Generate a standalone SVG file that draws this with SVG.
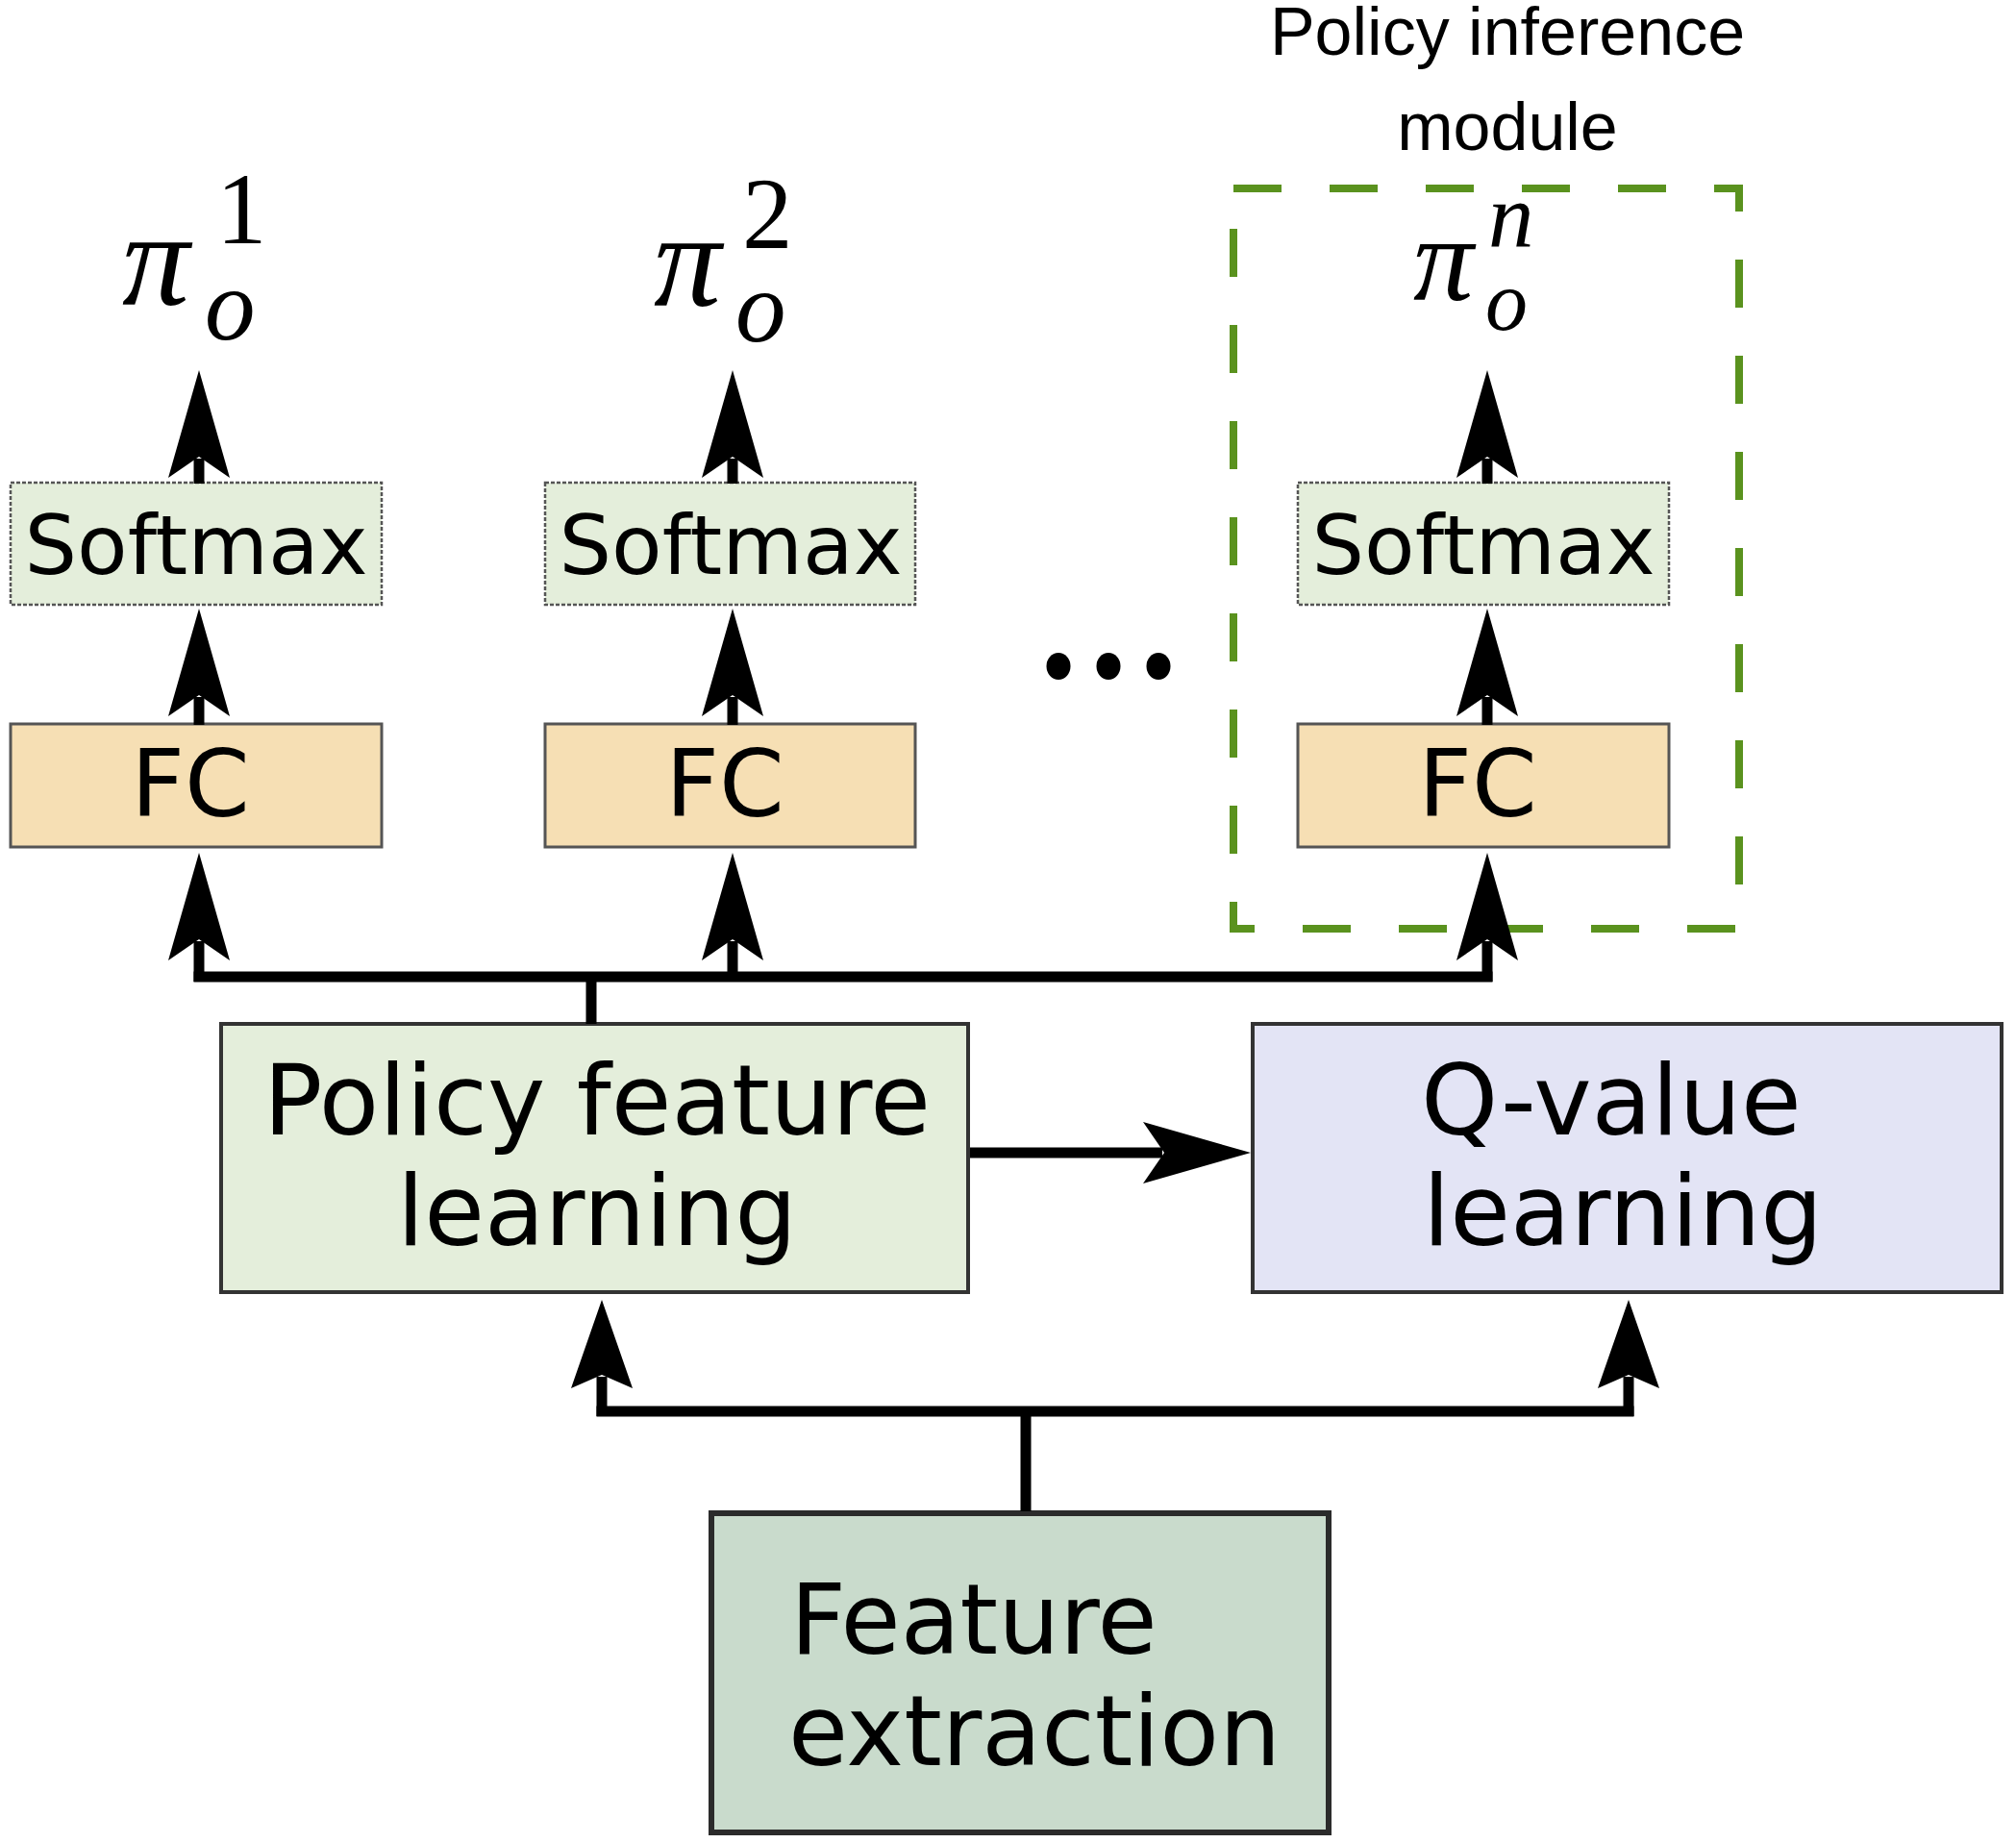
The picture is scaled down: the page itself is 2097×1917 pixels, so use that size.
<svg xmlns="http://www.w3.org/2000/svg" width="2097" height="1917" viewBox="0 0 2097 1917">
  <style>
    .lbl { font-family: "DejaVu Sans", "Liberation Sans", sans-serif; fill: #000; }
    .cap { font-family: "Liberation Sans", Arial, sans-serif; font-size: 70px; fill: #000; text-anchor: middle; }
    .math { font-family: "Liberation Serif", "DejaVu Serif", serif; fill: #000; }
    .mi { font-style: italic; }
    .softmax { fill: #e4eedb; stroke: #555; stroke-width: 2.5; stroke-dasharray: 4 2; }
    .fc { fill: #f6dfb4; stroke: #555; stroke-width: 3; }
    .conn { fill: none; stroke: #000; stroke-width: 11; stroke-linecap: butt; }
  </style>
  <defs>
    <marker id="ah" viewBox="0 0 112 64" markerWidth="112" markerHeight="64" refX="20" refY="32" orient="auto" markerUnits="userSpaceOnUse">
      <path d="M112,32 L0,0 L22,32 L0,64 Z" fill="#000"/>
    </marker>
    <marker id="ahs" viewBox="0 0 92 64" markerWidth="92" markerHeight="64" refX="12" refY="32" orient="auto" markerUnits="userSpaceOnUse">
      <path d="M92,32 L0,0 L14,32 L0,64 Z" fill="#000"/>
    </marker>
  </defs>

  <!-- Caption -->
  <g id="caption">
    <text class="cap" x="1568" y="57">Policy inference</text>
    <text class="cap" x="1568" y="156">module</text>
  </g>

  <!-- Policy inference module dashed frame -->
  <g id="policy-inference-module">
    <rect x="1283" y="196" width="526" height="770" fill="none" stroke="#5a921e" stroke-width="8" stroke-dasharray="50 50"/>
  </g>

  <!-- Output labels -->
  <g id="pi1">
    <text class="math"><tspan class="mi" x="127" y="317" font-size="140">π</tspan><tspan x="225" y="253" font-size="105">1</tspan><tspan class="mi" x="213" y="353" font-size="105">o</tspan></text>
  </g>
  <g id="pi2">
    <text class="math"><tspan class="mi" x="680" y="318" font-size="140">π</tspan><tspan x="772" y="258" font-size="105">2</tspan><tspan class="mi" x="765" y="355" font-size="105">o</tspan></text>
  </g>
  <g id="pin">
    <text class="math"><tspan class="mi" x="1470" y="312" font-size="125">π</tspan><tspan class="mi" x="1548" y="257" font-size="95">n</tspan><tspan class="mi" x="1545" y="343" font-size="88">o</tspan></text>
  </g>

  <!-- Softmax nodes -->
  <g id="softmax1">
    <rect class="softmax" x="11" y="502" width="386" height="127"/>
    <text class="lbl" x="204" y="597" font-size="86" text-anchor="middle">Softmax</text>
  </g>
  <g id="softmax2">
    <rect class="softmax" x="567" y="502" width="385" height="127"/>
    <text class="lbl" x="760" y="597" font-size="86" text-anchor="middle">Softmax</text>
  </g>
  <g id="softmaxn">
    <rect class="softmax" x="1350" y="502" width="386" height="127"/>
    <text class="lbl" x="1543" y="597" font-size="86" text-anchor="middle">Softmax</text>
  </g>

  <!-- FC nodes -->
  <g id="fc1">
    <rect class="fc" x="11" y="753" width="386" height="128"/>
    <text class="lbl" x="198" y="849" font-size="97" text-anchor="middle">FC</text>
  </g>
  <g id="fc2">
    <rect class="fc" x="567" y="753" width="385" height="128"/>
    <text class="lbl" x="754" y="849" font-size="97" text-anchor="middle">FC</text>
  </g>
  <g id="fcn">
    <rect class="fc" x="1350" y="753" width="386" height="128"/>
    <text class="lbl" x="1537" y="849" font-size="97" text-anchor="middle">FC</text>
  </g>

  <!-- Ellipsis -->
  <g id="ellipsis" fill="#000">
    <ellipse cx="1101" cy="693" rx="12.5" ry="14"/>
    <ellipse cx="1153" cy="693" rx="12.5" ry="14"/>
    <ellipse cx="1205" cy="693" rx="12.5" ry="14"/>
  </g>

  <!-- Policy feature learning -->
  <g id="policy-feature-learning">
    <rect x="230" y="1065" width="777" height="279" fill="#e4eedb" stroke="#333" stroke-width="4"/>
    <text class="lbl" x="621" y="1180" font-size="102" text-anchor="middle">Policy feature</text>
    <text class="lbl" x="621" y="1295" font-size="102" text-anchor="middle">learning</text>
  </g>

  <!-- Q-value learning -->
  <g id="q-value-learning">
    <rect x="1303" y="1065" width="779" height="279" fill="#e3e4f5" stroke="#333" stroke-width="4"/>
    <text class="lbl" x="1478" y="1180" font-size="102">Q-value</text>
    <text class="lbl" x="1480" y="1295" font-size="102">learning</text>
  </g>

  <!-- Feature extraction -->
  <g id="feature-extraction">
    <rect x="740" y="1574" width="642" height="332" fill="#c9dbcc" stroke="#2b2b2b" stroke-width="6"/>
    <text class="lbl" x="822" y="1720" font-size="101">Feature</text>
    <text class="lbl" x="820" y="1836" font-size="101">extraction</text>
  </g>

  <!-- Connectors -->
  <g id="connectors">
    <path class="conn" d="M207,503 V477" marker-end="url(#ah)"/>
    <path class="conn" d="M762,503 V477" marker-end="url(#ah)"/>
    <path class="conn" d="M1547,503 V477" marker-end="url(#ah)"/>
    <path class="conn" d="M207,754 V725" marker-end="url(#ah)"/>
    <path class="conn" d="M762,754 V725" marker-end="url(#ah)"/>
    <path class="conn" d="M1547,754 V725" marker-end="url(#ah)"/>
    <path class="conn" d="M201.5,1016 H1552.5"/>
    <path class="conn" d="M207,1021 V979" marker-end="url(#ah)"/>
    <path class="conn" d="M762,1021 V979" marker-end="url(#ah)"/>
    <path class="conn" d="M1547,1021 V979" marker-end="url(#ah)"/>
    <path class="conn" d="M615,1065 V1016"/>
    <path class="conn" d="M1009,1199 H1209" marker-end="url(#ah)"/>
    <path class="conn" d="M1067,1572 V1468"/>
    <path class="conn" d="M620.5,1468 H1699.5"/>
    <path class="conn" d="M626,1473 V1432" marker-end="url(#ahs)"/>
    <path class="conn" d="M1694,1473 V1432" marker-end="url(#ahs)"/>
  </g>
</svg>
